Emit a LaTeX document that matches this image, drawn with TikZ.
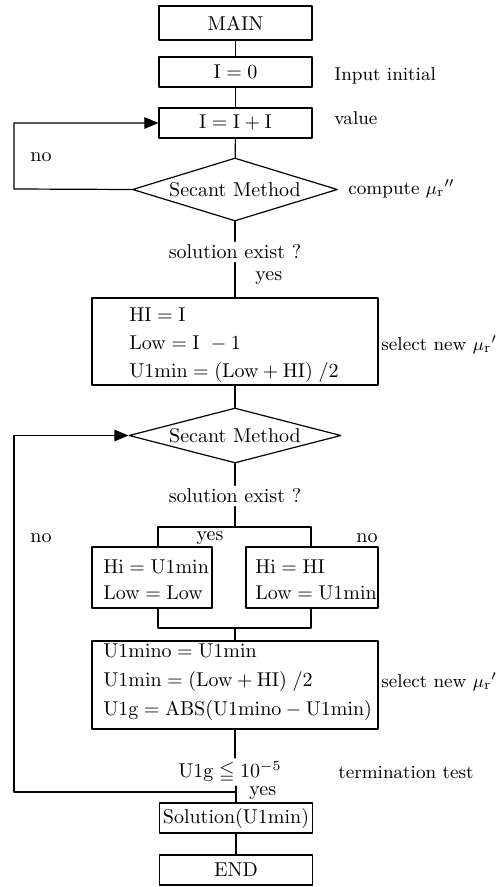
\documentclass[tikz,border=0pt]{standalone}
\usepackage{amssymb}
\usetikzlibrary{arrows,shapes.geometric}
\begin{document}
\begin{tikzpicture}[line cap=round,line join=round,>=triangle 45,x=0.5pt,y=0.5pt,
  proc/.style={draw,line width=0.6pt,minimum width=76.5pt,minimum height=15pt,inner sep=1pt},
  decis/.style={draw,line width=0.6pt,diamond,aspect=3.25,inner sep=0pt,minimum width=102.5pt,minimum height=31.5pt},
  wire/.style={line width=0.6pt},
  txt/.style={inner sep=1.5pt,align=left},
  note/.style={txt,anchor=west,font=\fontsize{9.3}{11}\selectfont}]
\useasboundingbox (0,0) rectangle (496,-887);

% main column
\node[proc,minimum height=17pt] (main) at (235.5,-23) {MAIN};
\node[proc] (init) at (235.5,-72) {$\mathrm{I=0}$};
\node[proc] (incr) at (235.5,-123) {$\mathrm{I=I+I}$};
\node[decis] (sec1) at (235,-189.5) {Secant Method};
\node[txt] (ask1) at (235,-252) {solution exist ?};
\node[proc,minimum width=143pt,minimum height=43.5pt] (hibox) at (235,-341.5) {};
\node[txt,anchor=west] (hitext) at (126,-345) {$\mathrm{HI=I}$\\[2pt] $\mathrm{Low=I\ -1}$\\[2pt] $\mathrm{U1min=(Low+HI)\;/2}$};
\node[decis,aspect=3.85,minimum width=106pt,minimum height=27.5pt] (sec2) at (235,-435.5) {Secant Method};
\node[txt] (ask2) at (235,-496) {solution exist ?};
\node[proc,minimum width=60pt,minimum height=30.5pt] (lbox) at (152,-577.5) {};
\node[txt,anchor=west] (ltext) at (100,-580) {$\mathrm{Hi=U1min}$\\[1pt] $\mathrm{Low=Low}$};
\node[proc,minimum width=66pt,minimum height=30.5pt] (rbox) at (312,-577.5) {};
\node[txt,anchor=west] (rtext) at (252,-580) {$\mathrm{Hi=HI}$\\[1pt] $\mathrm{Low=U1min}$};
\node[proc,minimum width=143pt,minimum height=44pt] (ubox) at (235,-685) {};
\node[txt,anchor=west] (utext) at (100,-682) {$\mathrm{U1mino=U1min}$\\[2.5pt] $\mathrm{U1min=(Low+HI)\;/2}$\\[2.5pt] $\mathrm{U1g=ABS(U1mino-U1min)}$};
\node[txt] (ask3) at (230,-772) {$\mathrm{U1g}\leqq 10^{-5}$};
\node[proc] (sol) at (236,-818) {Solution(U1min)};
\node[proc] (stop) at (236,-870) {END};

% side notes
\node[note] (n1) at (331,-76) {Input initial};
\node[note] (n2) at (331,-118) {value};
\node[note] (n3) at (345,-189) {compute $\mu_{\mathrm{r}}{}''$};
\node[note] (n4) at (378,-345) {select new $\mu_{\mathrm{r}}{}'$};
\node[note] (n5) at (378,-682) {select new $\mu_{\mathrm{r}}{}'$};
\node[note] (n6) at (335,-772) {termination test};
\node[txt] (no1) at (41,-157) {no};
\node[txt] (no2) at (41,-538) {no};
\node[txt,anchor=west] (yes1) at (252,-278) {yes};
\node[txt] (yes2) at (210,-538) {yes};
\node[txt] (no3) at (367,-538) {no};
\node[txt,anchor=west] (yes3) at (246,-793) {yes};

% branch points
\coordinate (back1) at (14,-189);
\coordinate (split) at (235,-527);
\coordinate (splitl) at (158,-527);
\coordinate (splitr) at (311,-527);
\coordinate (joinl) at (158,-628);
\coordinate (joinr) at (311,-628);
\coordinate (join) at (235,-628);
\coordinate (merge) at (236,-792);
\coordinate (back2) at (14,-792);

% connectors
\draw[wire] (main) -- (init);
\draw[wire] (init) -- (incr);
\draw[wire] (incr) -- (sec1);
\draw[wire] (sec1) -- (ask1);
\draw[wire] (ask1) -- (hibox);
\draw[wire] (hibox) -- (sec2);
\draw[wire] (sec2) -- (ask2);
\draw[wire] (ask2) -- (split);
\draw[wire] (splitl |- lbox.north) -- (splitl) -- (splitr) -- (splitr |- rbox.north);
\draw[wire] (joinl |- lbox.south) -- (joinl) -- (joinr) -- (joinr |- rbox.south);
\draw[wire] (join) -- (ubox);
\draw[wire] (ubox.south) -- (ubox.south |- ask3.north);
\draw[wire] (sol.north |- ask3.south) -- (sol);
\draw[wire] (sol) -- (stop);
\draw[wire,->] (sec1.west) -- (back1) |- (incr.west);
\draw[wire,->] (merge) -- (back2) |- (sec2.west);
\end{tikzpicture}
\end{document}
